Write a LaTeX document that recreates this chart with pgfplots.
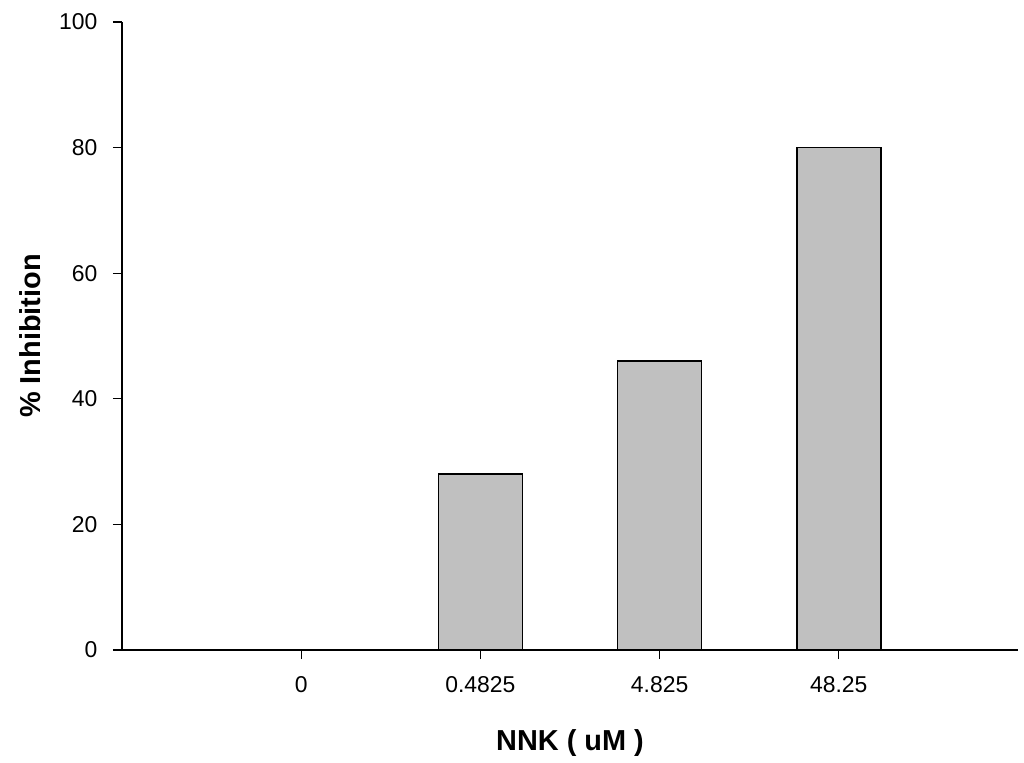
\documentclass[border=0pt]{standalone}
\usepackage{pgfplots}
\pgfplotsset{compat=1.18}
\usepackage{fontspec}
\setmainfont{Liberation Sans}
\definecolor{barfill}{HTML}{C0C0C0}
\begin{document}
\begin{tikzpicture}
\path (-122bp,-113bp) rectangle (902bp,650bp);
\begin{axis}[
  scale only axis,
  width=896bp, height=628bp,
  xmin=-1, xmax=4,
  ymin=0, ymax=100,
  axis lines=left,
  axis line style={-, line width=1.5bp},
  xtick={0,1,2,3},
  xticklabels={0,0.4825,4.825,48.25},
  ytick={0,20,40,60,80,100},
  tick align=outside,
  major tick length=9bp,
  tick style={line width=1.3bp, black},
  /pgf/number format/assume math mode=true,
  tick label style={font=\fontsize{23}{26}\selectfont},
  yticklabel style={xshift=-12bp},
  xticklabel style={yshift=-14bp},
  xlabel={NNK ( uM )},
  label style={font=\bfseries\fontsize{29}{33}\selectfont},
  xlabel style={at={(axis description cs:0.5,0)}, anchor=center, yshift=-93bp},
  clip=false,
]
\addplot[ybar, bar width=84bp, fill=barfill, draw=black, line width=1.5bp]
  coordinates {(1,28) (2,46) (3,80)};
\end{axis}
\node[rotate=90, font=\bfseries\fontsize{29}{33}\selectfont] at (-92bp,314bp) {\% Inhibition};
\end{tikzpicture}
\end{document}
